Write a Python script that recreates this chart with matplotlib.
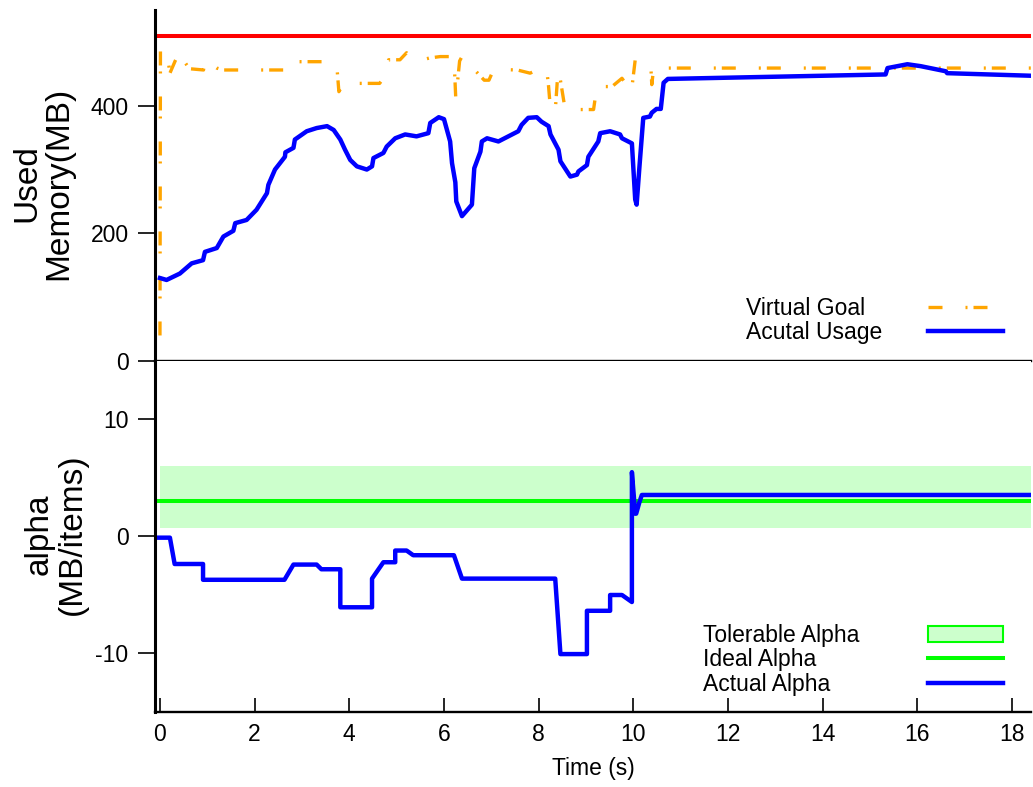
import matplotlib.pyplot as plt
from matplotlib.lines import Line2D
from matplotlib.patches import Patch

plt.rcParams['font.family'] = ['Liberation Sans', 'DejaVu Sans']
plt.rcParams['axes.unicode_minus'] = False

# memory panel
time_mem = [0.00, 0.14, 0.42, 0.67, 0.91, 0.95, 1.20, 1.34, 1.55, 1.59,
            1.83, 2.04, 2.26, 2.29, 2.43, 2.64, 2.65, 2.82, 2.85, 3.10,
            3.31, 3.53, 3.67, 3.81, 3.91, 4.02, 4.16, 4.37, 4.48, 4.51,
            4.72, 4.79, 4.97, 5.18, 5.42, 5.67, 5.71, 5.89, 6.00, 6.13,
            6.17, 6.24, 6.26, 6.38, 6.59, 6.64, 6.77, 6.80, 6.91, 7.15,
            7.36, 7.57, 7.64, 7.78, 7.96, 8.06, 8.21, 8.25, 8.42, 8.46,
            8.67, 8.81, 8.84, 9.02, 9.05, 9.26, 9.30, 9.51, 9.72, 9.76,
            9.97, 10.04, 10.07, 10.13, 10.21, 10.35, 10.39, 10.49, 10.58, 10.64,
            10.73, 15.33, 15.37, 15.79, 16.07, 16.60, 16.63, 18.39]
used_mem = [130, 127, 137, 153, 158, 171, 177, 195, 204, 216,
            221, 237, 263, 276, 300, 320, 327, 334, 347, 360,
            365, 368, 362, 347, 331, 315, 305, 300, 305, 318,
            326, 336, 349, 355, 352, 357, 373, 382, 379, 344,
            310, 280, 250, 227, 245, 302, 328, 344, 349, 344,
            352, 360, 370, 381, 382, 375, 368, 355, 331, 313,
            289, 292, 297, 307, 320, 344, 357, 360, 355, 349,
            341, 253, 245, 305, 381, 383, 389, 395, 395, 436,
            442, 449, 459, 465, 462, 454, 451, 447]

time_goal = [0.00, 0.01, 0.14, 0.21, 0.32, 0.42, 0.49, 0.62, 0.92, 0.95,
             1.08, 1.20, 1.33, 2.81, 2.85, 3.53, 3.63, 3.74, 3.78, 3.88,
             4.64, 4.72, 4.83, 5.07, 5.21, 5.35, 5.54, 5.71, 5.92, 6.21,
             6.25, 6.33, 6.38, 6.55, 6.65, 6.85, 6.95, 7.05, 7.55, 7.82,
             7.99, 8.17, 8.21, 8.25, 8.35, 8.41, 8.46, 8.56, 9.16, 9.23,
             9.55, 9.76, 9.96, 10.04, 10.10, 10.37, 10.39, 10.43, 18.40]
virtual_goal = [40, 487, 487, 451, 470, 485, 472, 458, 456, 472,
                465, 459, 456, 456, 469, 469, 459, 459, 422, 435,
                435, 443, 472, 472, 483, 472, 472, 475, 477, 477,
                410, 470, 477, 460, 456, 440, 440, 457, 456, 451,
                457, 457, 430, 394, 391, 456, 440, 394, 394, 430,
                430, 443, 422, 472, 469, 462, 433, 459, 459]

mem_limit = 510

# alpha panel
time_alpha = [-0.04, 0.21, 0.31, 0.91, 0.91, 2.63, 2.82, 3.31, 3.41, 3.81,
              3.81, 4.48, 4.48, 4.72, 4.97, 4.97, 5.21, 5.35, 6.21, 6.38,
              8.35, 8.46, 9.02, 9.02, 9.51, 9.51, 9.76, 9.97, 9.97, 10.04,
              10.06, 10.13, 10.18, 18.40]
actual_alpha = [-0.1, -0.1, -2.35, -2.35, -3.7, -3.7, -2.4, -2.4, -2.8, -2.8,
                -6.05, -6.05, -3.6, -2.2, -2.2, -1.2, -1.2, -1.6, -1.6, -3.6,
                -3.6, -10.05, -10.05, -6.35, -6.35, -5.0, -5.0, -5.6, 5.5, 1.95,
                1.95, 2.95, 3.55, 3.55]
ideal_alpha = 3.0
alpha_low = 0.7
alpha_high = 6.0
t_span = [0.0, 18.4]

fs = 16.5
blue = '#0000ff'
orange = '#ffa500'
green = '#00ff00'
goal_dash = (4.2, 6.9, 0.6, 1.8)

fig = plt.figure(figsize=(10.33, 7.87), dpi=100)
ax1 = fig.add_axes([0.150, 0.5413, 0.848, 0.446])
ax2 = fig.add_axes([0.150, 0.0953, 0.848, 0.446], sharex=ax1)

# top: memory
ax1.axhline(mem_limit, color='red', lw=2.9)
ax1.plot(time_goal, virtual_goal, color=orange, lw=2.4, dashes=goal_dash)
ax1.plot(time_mem, used_mem, color=blue, lw=3.2)
ax1.set_ylim(0, 550)
ax1.set_yticks([0, 200, 400])

# bottom: alpha
ax2.fill_between(t_span, alpha_low, alpha_high, color='#ccffcc', lw=0)
ax2.axhline(ideal_alpha, color=green, lw=2.9)
ax2.plot(time_alpha, actual_alpha, color=blue, lw=3.2)
ax2.set_ylim(-15, 15)
ax2.set_yticks([-10, 0, 10])
ax2.set_xlim(-0.106, 18.4)
ax2.set_xticks(range(0, 19, 2))
ax2.set_xlabel('Time (s)', fontsize=fs, labelpad=8)

for ax in (ax1, ax2):
    ax.spines['top'].set_visible(False)
    ax.spines['right'].set_visible(False)
    ax.spines['left'].set_linewidth(2.2)
    ax.spines['bottom'].set_linewidth(1.7)
    ax.tick_params(axis='y', direction='out', length=12, width=1.2,
                   labelsize=fs, pad=7)
ax1.tick_params(axis='x', length=0, labelbottom=False)
ax2.tick_params(axis='x', direction='in', length=10, width=1.2,
                labelsize=fs, pad=8)

fig.text(0.0416, 0.7675, 'Used\nMemory(MB)', rotation=90, ha='center',
         va='center', fontsize=24, linespacing=1.06)
fig.text(0.0540, 0.3215, 'alpha\n(MB/items)', rotation=90, ha='center',
         va='center', fontsize=24, linespacing=1.06)

# legends: text column on the left, key column on the right
blank = Line2D([], [], color='none')
goal_key = Line2D([], [], color=orange, lw=2.4, dashes=goal_dash)
use_key = Line2D([], [], color=blue, lw=3.2)
ax1.legend([blank, blank, goal_key, use_key],
           ['Virtual Goal', 'Acutal Usage', '', ''],
           ncol=2, frameon=False, fontsize=fs, handlelength=3.26,
           handletextpad=0.4, columnspacing=2.0, labelspacing=0.05,
           borderpad=0, borderaxespad=0, loc='center right',
           bbox_to_anchor=(0.9797, 0.5925), bbox_transform=fig.transFigure)

tol_key = Patch(facecolor='#ccffcc', edgecolor=green, lw=1.5)
ideal_key = Line2D([], [], color=green, lw=2.9)
act_key = Line2D([], [], color=blue, lw=3.2)
ax2.legend([blank, blank, blank, tol_key, ideal_key, act_key],
           ['Tolerable Alpha', 'Ideal Alpha', 'Actual Alpha', '', '', ''],
           ncol=2, frameon=False, fontsize=fs, handlelength=3.26,
           handletextpad=0.4, columnspacing=3.0, labelspacing=0.05,
           borderpad=0, borderaxespad=0, loc='center right',
           bbox_to_anchor=(0.9797, 0.1615), bbox_transform=fig.transFigure)

fig.savefig('out.png', dpi=100)
